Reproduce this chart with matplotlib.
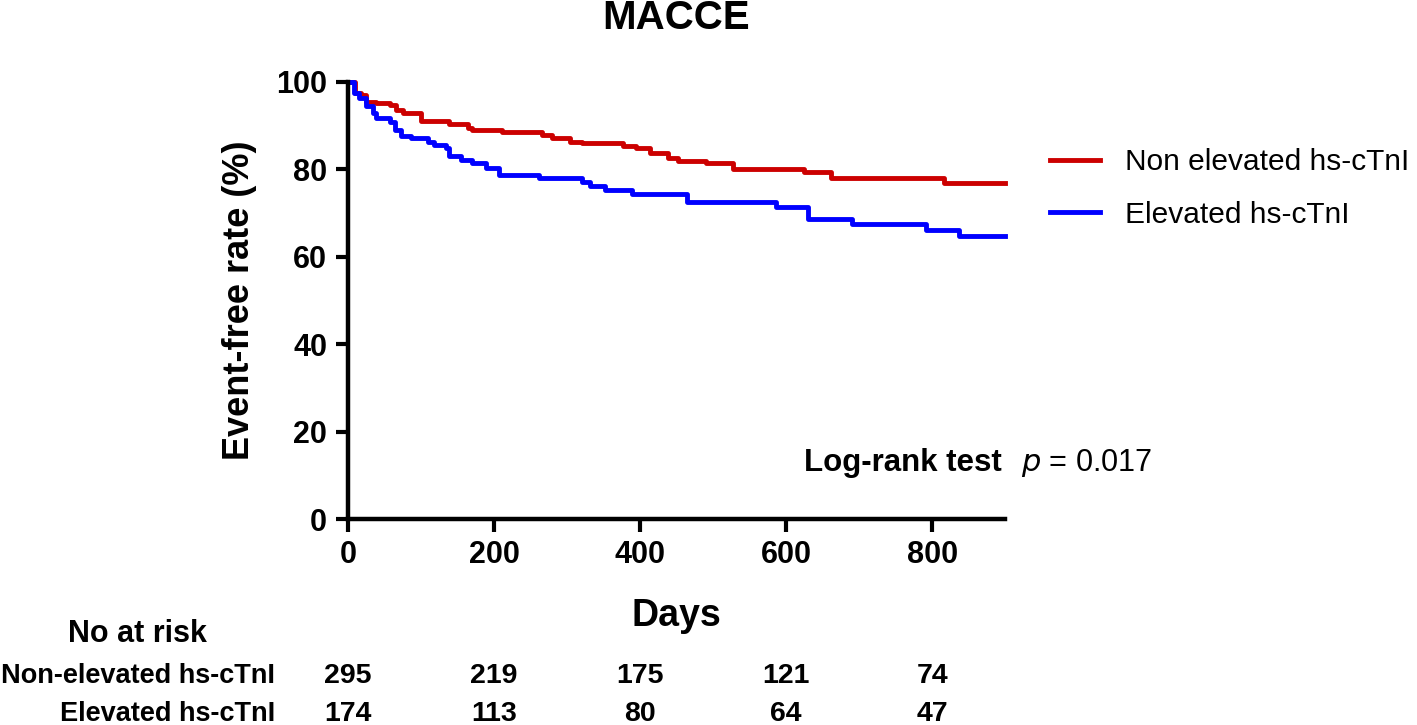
import numpy as np
import matplotlib.pyplot as plt

# Kaplan-Meier steps (day, event-free %)
days_non = [0, 10, 18, 25, 39, 57, 66, 75, 100, 139, 164, 170, 211, 266, 280, 304, 320,
            377, 395, 413, 438, 452, 491, 527, 625, 661, 816, 900]
surv_non = [100, 97.5, 97.0, 95.5, 95.1, 94.7, 93.6, 92.8, 91.1, 90.4, 89.4, 89.0, 88.5,
            87.9, 87.1, 86.3, 86.0, 85.4, 84.8, 83.7, 82.5, 82.0, 81.4, 80.1, 79.5, 78.0,
            76.8, 76.8]

days_el = [0, 8, 15, 25, 34, 39, 57, 64, 73, 86, 109, 118, 134, 139, 155, 170, 189, 207,
           261, 320, 332, 352, 389, 464, 586, 630, 691, 791, 837, 900]
surv_el = [100, 97.5, 96.3, 94.4, 92.8, 91.7, 90.9, 89.0, 87.7, 87.1, 86.3, 85.6, 84.8,
           83.1, 82.2, 81.4, 80.3, 78.7, 78.0, 77.2, 76.2, 75.3, 74.4, 72.6, 71.3, 68.6,
           67.5, 66.1, 64.8, 64.8]

risk_days = [0, 200, 400, 600, 800]
risk_non = [295, 219, 175, 121, 74]
risk_el = [174, 113, 80, 64, 47]

plt.rcParams['font.family'] = ['Liberation Sans', 'DejaVu Sans']

fig = plt.figure(figsize=(14.17, 7.25), dpi=100)
ax = fig.add_axes([0.2456, 0.2841, 0.4637, 0.6028])

ax.step(days_non, surv_non, where='post', color='#CC0000', lw=3.5,
        label='Non elevated hs-cTnI', clip_on=False)
ax.step(days_el, surv_el, where='post', color='#0000FF', lw=3.5,
        label='Elevated hs-cTnI', clip_on=False)

ax.set_xlim(0, 900)
ax.set_ylim(0, 100)
ax.set_xticks([0, 200, 400, 600, 800])
ax.set_yticks([0, 20, 40, 60, 80, 100])
for s in ['top', 'right']:
    ax.spines[s].set_visible(False)
for s in ['left', 'bottom']:
    ax.spines[s].set_linewidth(3.2)
ax.tick_params(width=3, length=9, labelsize=22, pad=6)
for lab in ax.get_xticklabels() + ax.get_yticklabels():
    lab.set_fontweight('bold')

ax.set_title('MACCE', fontsize=29, fontweight='bold', pad=38)
ax.set_xlabel('Days', fontsize=27, fontweight='bold', labelpad=20)
ax.set_ylabel('Event-free rate (%)', fontsize=26, fontweight='bold', labelpad=14)

ax.legend(loc='upper left', bbox_to_anchor=(1.0685, 0.848), frameon=False, fontsize=21.5,
          handlelength=1.67, handletextpad=0.84, labelspacing=0.82,
          borderpad=0, borderaxespad=0)

ax.text(0.995, 0.128, 'Log-rank test', transform=ax.transAxes, fontsize=22.5,
        fontweight='bold', ha='right', va='center')
ax.text(1.024, 0.128, '$\\it{p}$ = 0.017', transform=ax.transAxes, fontsize=22,
        ha='left', va='center')

# number at risk table
narrow = ['Liberation Sans Narrow', 'Liberation Sans', 'DejaVu Sans']
fig.text(137 / 1417, 1 - 634 / 725, 'No at risk', fontsize=22, fontweight='bold',
         ha='center', va='center', family=narrow)
fig.text(275 / 1417, 1 - 676 / 725, 'Non-elevated hs-cTnI', fontsize=19.5, fontweight='bold',
         ha='right', va='center', family=narrow)
fig.text(275 / 1417, 1 - 714 / 725, 'Elevated hs-cTnI', fontsize=19.5, fontweight='bold',
         ha='right', va='center', family=narrow)
for d, a, b in zip(risk_days, risk_non, risk_el):
    ax.annotate(str(a), xy=(d, 0), xycoords=('data', 'axes fraction'),
                xytext=(d, 1 - 676 / 725), textcoords=('data', 'figure fraction'),
                fontsize=20.5, fontweight='bold', ha='center', va='center', family=narrow)
    ax.annotate(str(b), xy=(d, 0), xycoords=('data', 'axes fraction'),
                xytext=(d, 1 - 714 / 725), textcoords=('data', 'figure fraction'),
                fontsize=20.5, fontweight='bold', ha='center', va='center', family=narrow)

fig.savefig('out.png', dpi=100)
